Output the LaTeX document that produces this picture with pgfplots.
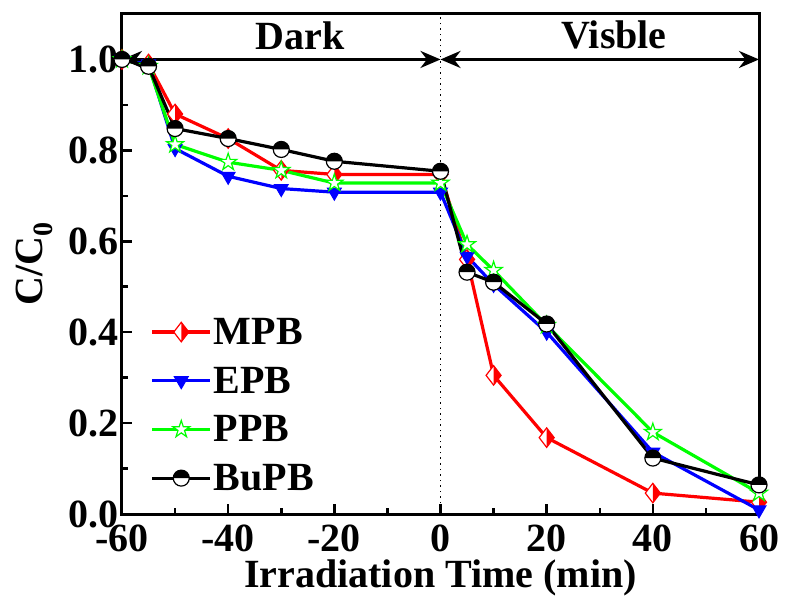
\documentclass[border=0pt]{standalone}
\usepackage{fontspec}
\setmainfont{Liberation Serif}
\usepackage{pgfplots}
\pgfplotsset{compat=1.18}
\usetikzlibrary{arrows.meta}

% half-filled diamond: left white, right in fill colour
\pgfdeclareplotmark{hdiamond}{%
  \begin{pgfscope}\pgfsetfillcolor{white}%
  \pgfpathmoveto{\pgfqpoint{0pt}{1.3\pgfplotmarksize}}%
  \pgfpathlineto{\pgfqpoint{\pgfplotmarksize}{0pt}}%
  \pgfpathlineto{\pgfqpoint{0pt}{-1.3\pgfplotmarksize}}%
  \pgfpathlineto{\pgfqpoint{-\pgfplotmarksize}{0pt}}%
  \pgfpathclose\pgfusepathqfill\end{pgfscope}%
  \pgfpathmoveto{\pgfqpoint{0pt}{1.3\pgfplotmarksize}}%
  \pgfpathlineto{\pgfqpoint{\pgfplotmarksize}{0pt}}%
  \pgfpathlineto{\pgfqpoint{0pt}{-1.3\pgfplotmarksize}}%
  \pgfpathclose\pgfusepathqfill
  \pgfpathmoveto{\pgfqpoint{0pt}{1.3\pgfplotmarksize}}%
  \pgfpathlineto{\pgfqpoint{\pgfplotmarksize}{0pt}}%
  \pgfpathlineto{\pgfqpoint{0pt}{-1.3\pgfplotmarksize}}%
  \pgfpathlineto{\pgfqpoint{-\pgfplotmarksize}{0pt}}%
  \pgfpathclose\pgfusepathqstroke
}
% half-filled circle: top half filled
\pgfdeclareplotmark{hcircle}{%
  \begin{pgfscope}\pgfsetfillcolor{white}%
  \pgfpathcircle{\pgfpointorigin}{\pgfplotmarksize}\pgfusepathqfill\end{pgfscope}%
  \pgfpathmoveto{\pgfqpoint{\pgfplotmarksize}{0pt}}%
  \pgfpatharc{0}{180}{\pgfplotmarksize}%
  \pgfpathclose\pgfusepathqfill
  \pgfpathcircle{\pgfpointorigin}{\pgfplotmarksize}\pgfusepathqstroke
}
% open five-point star
\pgfdeclareplotmark{ostar}{%
  \pgfpathmoveto{\pgfqpoint{0pt}{\pgfplotmarksize}}%
  \pgfpathlineto{\pgfqpoint{-0.2245\pgfplotmarksize}{0.309\pgfplotmarksize}}%
  \pgfpathlineto{\pgfqpoint{-0.951\pgfplotmarksize}{0.309\pgfplotmarksize}}%
  \pgfpathlineto{\pgfqpoint{-0.363\pgfplotmarksize}{-0.118\pgfplotmarksize}}%
  \pgfpathlineto{\pgfqpoint{-0.588\pgfplotmarksize}{-0.809\pgfplotmarksize}}%
  \pgfpathlineto{\pgfqpoint{0pt}{-0.382\pgfplotmarksize}}%
  \pgfpathlineto{\pgfqpoint{0.588\pgfplotmarksize}{-0.809\pgfplotmarksize}}%
  \pgfpathlineto{\pgfqpoint{0.363\pgfplotmarksize}{-0.118\pgfplotmarksize}}%
  \pgfpathlineto{\pgfqpoint{0.951\pgfplotmarksize}{0.309\pgfplotmarksize}}%
  \pgfpathlineto{\pgfqpoint{0.2245\pgfplotmarksize}{0.309\pgfplotmarksize}}%
  \pgfpathclose\pgfusepathqfillstroke
}

\begin{document}
\begin{tikzpicture}
\begin{axis}[
    set layers=standard,
    scale only axis,
    width=637pt, height=500pt,
    xmin=-60, xmax=60, ymin=0, ymax=1.1,
    xtick={-60,-40,-20,0,20,40,60},
    ytick={0,0.2,0.4,0.6,0.8,1.0},
    minor x tick num=1, minor y tick num=1,
    tick align=inside, xtick pos=bottom, ytick pos=left,
    major tick length=10pt, minor tick length=6pt,
    every tick/.style={line width=2.5pt, black},
    axis line style={line width=3pt},
    /pgf/number format/assume math mode=true,
    ticklabel style={font=\fontsize{40}{48}\selectfont\bfseries},
    xticklabel style={yshift=-7pt},
    yticklabel style={/pgf/number format/.cd, fixed, fixed zerofill, precision=1},
    xlabel={Irradiation Time (min)},
    ylabel={C/C\textsubscript{0}},
    label style={font=\fontsize{40}{48}\selectfont\bfseries},
    xlabel style={at={(axis description cs:0.5,-0.128)}, anchor=center, inner sep=0pt},
    ylabel style={at={(axis description cs:-0.137,0.5)}, anchor=center},
    every axis plot/.append style={line width=3.2pt},
    legend style={draw=none, fill=none, at={(axis description cs:0.04,0.40)},
        anchor=north west, font=\fontsize{40}{47}\selectfont\bfseries,
        cells={anchor=west}, /tikz/every even column/.append style={column sep=4pt}},
    legend cell align=left,
    legend image code/.code={
        \draw[mark repeat=2, mark phase=2] plot coordinates {(0pt,0pt) (29pt,0pt) (58pt,0pt)};
    },
    legend style={row sep=17pt},
]

\coordinate (sw) at (rel axis cs:0,0);
\coordinate (ne) at (rel axis cs:1,1);

\draw[line width=1.3pt, dash pattern=on 1.5pt off 4pt] (axis cs:0,0) -- (axis cs:0,1.1);

% MPB
\addplot[red, mark=hdiamond, mark size=7.5pt, mark options={line width=1.2pt, fill=red}] coordinates {
    (-60,1.0) (-55,0.99) (-50,0.88) (-40,0.826) (-30,0.756) (-20,0.747)
    (0,0.747) (5,0.56) (10,0.305) (20,0.168) (40,0.046) (60,0.026)
};
\addlegendentry{MPB}

% EPB
\addplot[blue, mark=triangle*, mark size=8pt, mark options={rotate=180, line width=1pt, fill=blue}] coordinates {
    (-60,1.0) (-55,0.99) (-50,0.804) (-40,0.743) (-30,0.716) (-20,0.708)
    (0,0.708) (5,0.567) (10,0.505) (20,0.40) (40,0.136) (60,0.009)
};
\addlegendentry{EPB}

% PPB
\addplot[green, mark=ostar, mark size=9pt, mark options={line width=1.2pt, fill=white}] coordinates {
    (-60,1.0) (-55,0.985) (-50,0.813) (-40,0.774) (-30,0.756) (-20,0.728)
    (0,0.728) (5,0.593) (10,0.536) (20,0.415) (40,0.18) (60,0.046)
};
\addlegendentry{PPB}

% BuPB
\addplot[black, mark=hcircle, mark size=8pt, mark options={line width=1.2pt, fill=black}] coordinates {
    (-60,1.0) (-55,0.985) (-50,0.848) (-40,0.826) (-30,0.802) (-20,0.776)
    (0,0.754) (5,0.532) (10,0.51) (20,0.418) (40,0.123) (60,0.064)
};
\addlegendentry{BuPB}

\draw[on layer=axis foreground, line width=3pt,
    {Stealth[length=20pt,width=17pt]}-{Stealth[length=20pt,width=17pt]}]
    (axis cs:-60,1) -- (axis cs:0,1);
\draw[on layer=axis foreground, line width=3pt,
    {Stealth[length=20pt,width=17pt]}-{Stealth[length=20pt,width=17pt]}]
    (axis cs:0,1) -- (axis cs:60,1);
\node[font=\fontsize{40}{48}\selectfont\bfseries] at (axis cs:-26.5,1.053) {Dark};
\node[font=\fontsize{40}{48}\selectfont\bfseries] at (axis cs:32.7,1.053) {Visble};

\end{axis}
\useasboundingbox ([shift={(-122pt,-89pt)}]sw) rectangle ([shift={(26pt,14pt)}]ne);
\end{tikzpicture}
\end{document}
